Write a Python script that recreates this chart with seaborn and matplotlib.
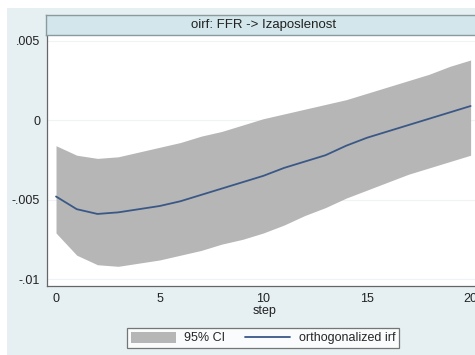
import numpy as np
import pandas as pd
import matplotlib
matplotlib.use("Agg")
import matplotlib.pyplot as plt
from matplotlib.patches import Rectangle, Patch
from matplotlib.lines import Line2D
import seaborn as sns

# Orthogonalized impulse response: FFR -> Izaposlenost
step = list(range(21))
oirf = [-0.0048, -0.0056, -0.0059, -0.0058, -0.0056, -0.0054, -0.0051, -0.0047,
        -0.0043, -0.0039, -0.0035, -0.0030, -0.0026, -0.0022, -0.0016, -0.0011,
        -0.0007, -0.0003, 0.0001, 0.0005, 0.0009]
ci_lower = [-0.0071, -0.0085, -0.0091, -0.0092, -0.0090, -0.0088, -0.0085, -0.0082,
            -0.0078, -0.0075, -0.0071, -0.0066, -0.0060, -0.0055, -0.0049, -0.0044,
            -0.0039, -0.0034, -0.0030, -0.0026, -0.0022]
ci_upper = [-0.0016, -0.0022, -0.0024, -0.0023, -0.0020, -0.0017, -0.0014, -0.0010,
            -0.0007, -0.0003, 0.0001, 0.0004, 0.0007, 0.0010, 0.0013, 0.0017,
            0.0021, 0.0025, 0.0029, 0.0034, 0.0038]
y_ticks = [-0.01, -0.005, 0, 0.005]
y_tick_labels = ["-.01", "-.005", "0", ".005"]
x_ticks = [0, 5, 10, 15, 20]
panel_title = "oirf: FFR -> Izaposlenost"
legend_labels = ["95% CI", "orthogonalized irf"]

df = pd.DataFrame({"step": step, "oirf": oirf, "lo": ci_lower, "hi": ci_upper})

sns.set_style("white")
plt.rcParams["font.family"] = ["Liberation Sans", "DejaVu Sans"]

W, H = 475, 355
fig = plt.figure(figsize=(W / 100, H / 100), dpi=100, facecolor="white")

bg = "#e6f0f2"
fig.patches.append(Rectangle((7 / W, 0), 1, (H - 8) / H, transform=fig.transFigure,
                             facecolor=bg, edgecolor="none", zorder=-10))

band_col = "#b6b6b6"
line_col = "#3a5886"

# Plot region
ax = fig.add_axes([47 / W, (H - 286) / H, (482 - 47) / W, (286 - 35) / H])
ax.set_facecolor("white")
ax.fill_between(df["step"], df["lo"], df["hi"], color=band_col, linewidth=0, zorder=2)
sns.lineplot(data=df, x="step", y="oirf", ax=ax, color=line_col, linewidth=1.3, zorder=3)

ax.set_xlim(-0.435, 20.55)
ax.set_ylim(-0.01044, 0.005375)
ax.set_yticks(y_ticks)
ax.set_yticklabels(y_tick_labels)
ax.set_xticks(x_ticks)
ax.grid(axis="y", color="#eef4f5", linewidth=0.8, zorder=0)
ax.tick_params(axis="both", direction="out", length=3, width=0.7, color="#555555",
               labelsize=9, pad=2, labelcolor="#222222")
for s in ["top", "right"]:
    ax.spines[s].set_visible(False)
for s in ["left", "bottom"]:
    ax.spines[s].set_color("#666666")
    ax.spines[s].set_linewidth(0.9)
ax.set_xlabel("step", fontsize=9, labelpad=0, color="#222222")
ax.set_ylabel("")

# Title strip above the plot region
strip = fig.add_axes([46 / W, (H - 35) / H, (482 - 46) / W, 20 / H])
strip.set_facecolor("#d2e6eb")
strip.set_xticks([])
strip.set_yticks([])
for s in strip.spines.values():
    s.set_color("#8a9a9e")
    s.set_linewidth(1.0)
strip.text((264 - 46) / (482 - 46), 0.5, panel_title, ha="center", va="center",
           fontsize=9.5, color="#222222", transform=strip.transAxes)

# Legend
handles = [Patch(facecolor=band_col, edgecolor="none"),
           Line2D([0], [0], color=line_col, linewidth=1.3)]
leg = fig.legend(handles, legend_labels, ncol=2, loc="center",
                 bbox_to_anchor=(263 / W, 1 - 338 / H), fontsize=9,
                 frameon=True, fancybox=False, edgecolor="#555555",
                 borderpad=0.3, handlelength=3.6, handleheight=1.0,
                 columnspacing=1.6, handletextpad=0.7, borderaxespad=0)
leg.get_frame().set_linewidth(0.9)
leg.get_frame().set_facecolor("white")

fig.savefig("out.png", dpi=100, facecolor="white")
